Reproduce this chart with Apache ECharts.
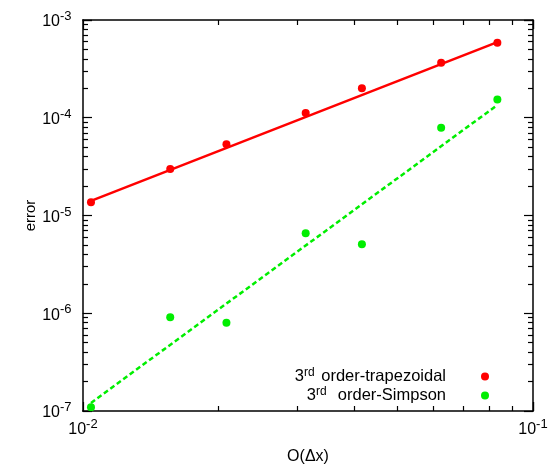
<!DOCTYPE html>
<html>
<head>
<meta charset="utf-8">
<script src="https://cdn.jsdelivr.net/npm/echarts@6/dist/echarts.min.js"></script>
<style>
  html, body { margin: 0; padding: 0; background: #fff; }
  #chart { width: 552px; height: 472px; }
</style>
</head>
<body>
<div id="chart"></div>
<script>
// Grid spacing Δx (1/96 ... 1/12)
const dx = [1 / 96, 1 / 64, 1 / 48, 1 / 32, 1 / 24, 1 / 16, 1 / 12];
// Measured errors
const trapErr = [1.37e-5, 2.99e-5, 5.35e-5, 1.12e-4, 2.0e-4, 3.66e-4, 5.86e-4];
const simpErr = [1.09e-7, 9.08e-7, 8.0e-7, 6.57e-6, 5.07e-6, 7.9e-5, 1.54e-4];
// Fitted trend lines (end points)
const fitX = [1 / 96, 1 / 12];
const trapFit = [1.41e-5, 5.95e-4];
const simpFit = [1.21e-7, 1.35e-4];
// Series names
const trapName = '3rd order-trapezoidal';
const simpName = '3rd order-Simpson';
// Axis ranges and decade tick labels
const xRange = [0.01, 0.1];
const yRange = [1e-7, 1e-3];
const xTickLabels = [0.01, 0.1];
const yTickLabels = [1e-7, 1e-6, 1e-5, 1e-4, 1e-3];

const FONT = "'Liberation Sans', Arial, Helvetica, sans-serif";
const RED = '#ff0000';
const GREEN = '#00ee00';

const pairs = (xs, ys) => xs.map((x, i) => [x, ys[i]]);

// "10" with the exponent raised
function powLabel(v) {
  const e = Math.round(Math.log10(v));
  return '{b|10}{s|' + e + '}';
}
function powRich() {
  return {
    b: { fontSize: 16, fontFamily: FONT, color: '#000', verticalAlign: 'bottom', lineHeight: 20 },
    s: { fontSize: 13, fontFamily: FONT, color: '#000', verticalAlign: 'top', lineHeight: 20 }
  };
}

// Framed log axis: decade ticks plus 2..9 minor ticks, all pointing inwards
function logAxis(range, position, extra) {
  return Object.assign({
    type: 'log',
    min: range[0],
    max: range[1],
    position: position,
    axisLine: { show: true, lineStyle: { color: '#000', width: 1.5 } },
    axisTick: { show: true, inside: true, length: 9, lineStyle: { color: '#000', width: 1.2 } },
    minorTick: { show: true, splitNumber: 9, length: 5, lineStyle: { color: '#000', width: 1.2 } },
    axisLabel: { show: false },
    splitLine: { show: false }
  }, extra || {});
}

// Series that writes the decade labels beside the frame (its 1px dots sit on the black frame)
function tickLabelSeries(name, data, position, distance) {
  return {
    name: name, type: 'scatter', data: data,
    symbol: 'circle', symbolSize: 1, silent: true, clip: false, z: 5,
    itemStyle: { color: '#000', opacity: 1 },
    label: {
      show: true, position: position, distance: distance, opacity: 1,
      formatter: function (p) { return powLabel(position === 'left' ? p.value[1] : p.value[0]); },
      rich: powRich()
    }
  };
}

const chart = echarts.init(document.getElementById('chart'), null, { renderer: 'canvas' });

chart.setOption({
  animation: false,
  backgroundColor: '#fff',
  textStyle: { fontFamily: FONT },
  grid: { left: 83, top: 20, width: 450, height: 391 },
  xAxis: [
    logAxis(xRange, 'bottom', {
      name: 'O(Δx)', nameLocation: 'middle', nameGap: 38, nameMoveOverlap: false,
      nameTextStyle: { fontSize: 16, color: '#000', fontFamily: FONT }
    }),
    logAxis(xRange, 'top')
  ],
  yAxis: [
    logAxis(yRange, 'left', {
      name: 'error', nameLocation: 'middle', nameGap: 45, nameRotate: 90, nameMoveOverlap: false,
      nameTextStyle: { fontSize: 15, color: '#000', fontFamily: FONT }
    }),
    logAxis(yRange, 'right')
  ],
  legend: {
    data: [trapName, simpName],
    orient: 'vertical',
    right: 58,
    top: 362,
    align: 'right',
    icon: 'circle',
    itemWidth: 68,
    itemHeight: 8,
    itemGap: 0,
    selectedMode: false,
    formatter: function (name) {
      return name === trapName ? '3{s|rd} order-trapezoidal' : '3{s|rd}  order-Simpson';
    },
    textStyle: {
      fontSize: 16.5, color: '#000', fontFamily: FONT, lineHeight: 19,
      rich: {
        s: { fontSize: 12, fontFamily: FONT, color: '#000', verticalAlign: 'top', lineHeight: 19, padding: [0, 2, 0, 0] }
      }
    }
  },
  series: [
    {
      name: trapName + ' fit', type: 'line', data: pairs(fitX, trapFit),
      symbol: 'none', lineStyle: { color: RED, width: 2.5 }, z: 2, silent: true
    },
    {
      name: simpName + ' fit', type: 'line', data: pairs(fitX, simpFit),
      symbol: 'none', lineStyle: { color: GREEN, width: 2.5, type: [5, 3] }, z: 2, silent: true
    },
    {
      name: trapName, type: 'scatter', data: pairs(dx, trapErr),
      symbol: 'circle', symbolSize: 8, itemStyle: { color: RED, opacity: 1 }, z: 3
    },
    {
      name: simpName, type: 'scatter', data: pairs(dx, simpErr),
      symbol: 'circle', symbolSize: 8, itemStyle: { color: GREEN, opacity: 1 }, z: 3
    },
    tickLabelSeries('y labels', yTickLabels.map(v => [xRange[0], v]), 'left', 11),
    tickLabelSeries('x labels', xTickLabels.map(v => [v, yRange[0]]), 'bottom', 6)
  ]
});
</script>
</body>
</html>
